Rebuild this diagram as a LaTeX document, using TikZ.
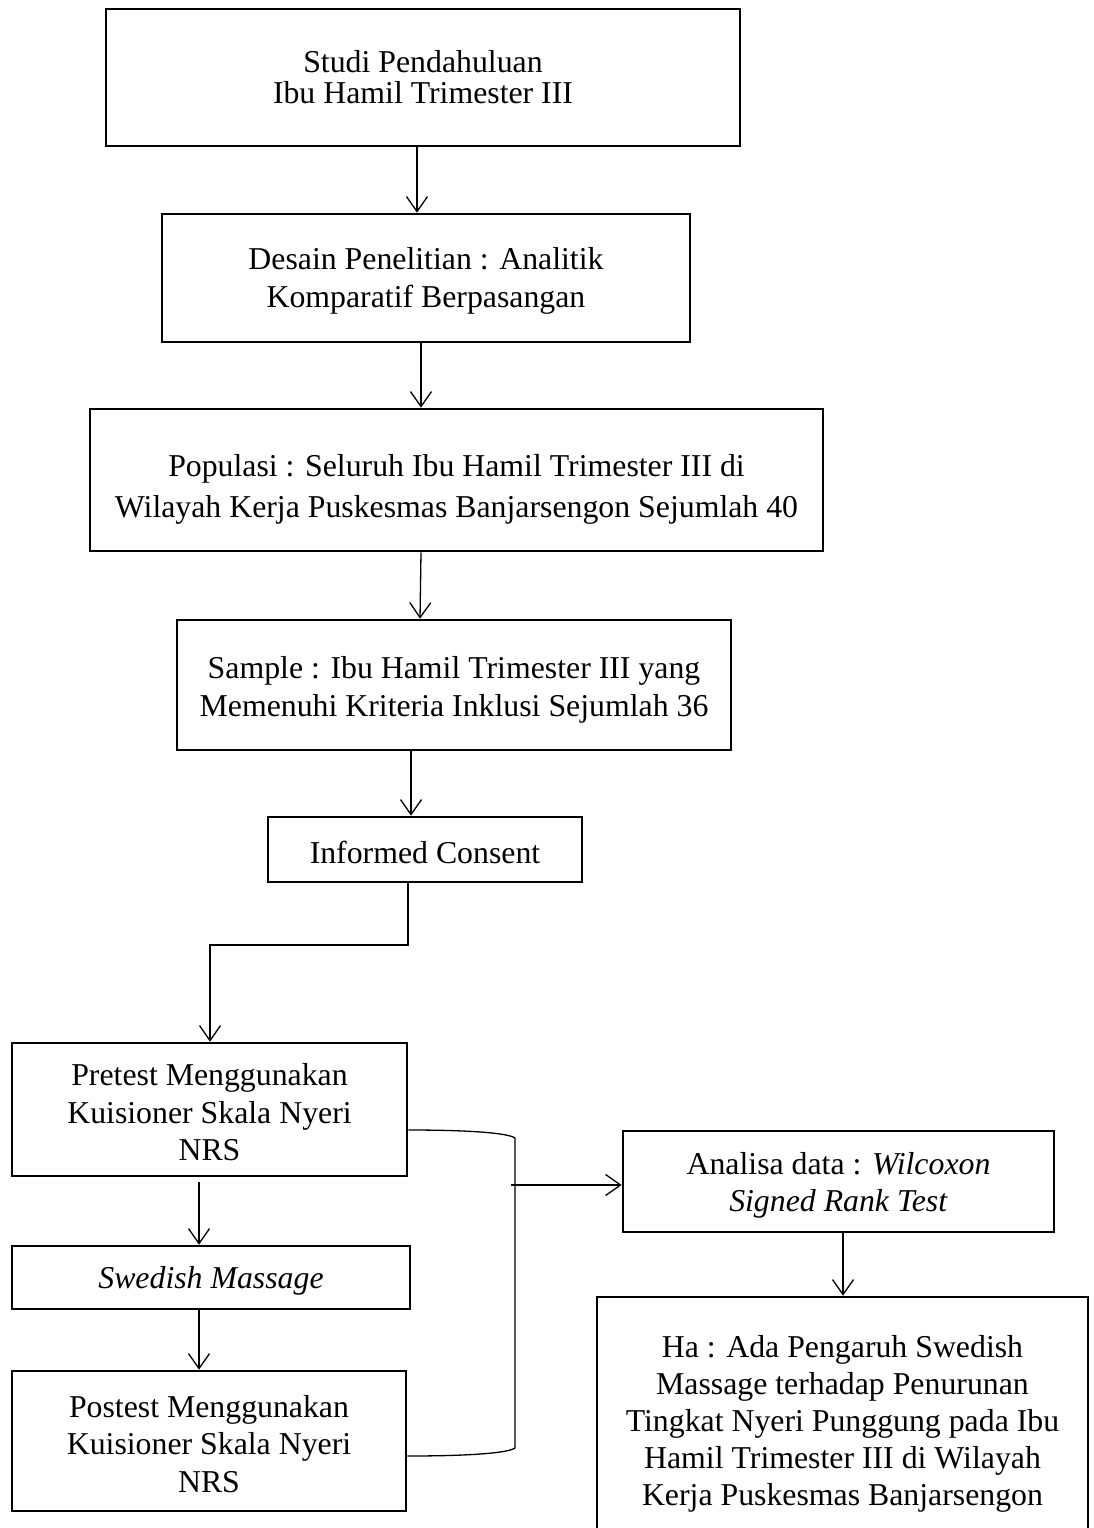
\documentclass[tikz,border=0pt]{standalone}
\usepackage{fontspec}
\setmainfont{Liberation Serif}
\usetikzlibrary{arrows.meta}
\begin{document}
\begin{tikzpicture}[x=1pt,y=-1pt,
  box/.style={draw, line width=2.6pt, inner sep=0pt},
  txt/.style={align=center, inner sep=0pt, yshift=-3pt, font=\fontsize{31.8}{37.5}\selectfont},
  conn/.style={line width=1.3pt},
  arr/.style={conn, -{Straight Barb[length=15pt,width=21pt,line width=1.3pt]}}]
\useasboundingbox (0,0) rectangle (1094,1528);

% boxes
\node[box, minimum width=634, minimum height=137] (studi) at (423,77.5) {};
\node[box, minimum width=528, minimum height=128] (desain) at (426,278) {};
\node[box, minimum width=733, minimum height=142] (populasi) at (456.5,480) {};
\node[box, minimum width=554, minimum height=130] (sample) at (454,685) {};
\node[box, minimum width=314, minimum height=65] (informed) at (425,849.5) {};
\node[box, minimum width=395, minimum height=133] (pretest) at (209.5,1109.5) {};
\node[box, minimum width=398, minimum height=63] (swedish) at (211,1277.5) {};
\node[box, minimum width=394, minimum height=140] (postest) at (209,1441) {};
\node[box, minimum width=431, minimum height=101] (analisa) at (838.5,1181.5) {};
\node[box, minimum width=491, minimum height=248] (ha) at (842.5,1421) {};

% texts
\node[txt, font=\fontsize{31.8}{31}\selectfont] (studi-t) at (423,74) {Studi Pendahuluan\\Ibu Hamil Trimester III};
\node[txt] (desain-t) at (desain.center) {Desain Penelitian : Analitik\\Komparatif Berpasangan};
\node[txt, font=\fontsize{31.8}{41}\selectfont] (populasi-t) at (456.5,486) {Populasi : Seluruh Ibu Hamil Trimester III di\\Wilayah Kerja Puskesmas Banjarsengon Sejumlah 40};
\node[txt] (sample-t) at ([yshift=-2pt]sample.center) {Sample : Ibu Hamil Trimester III yang\\Memenuhi Kriteria Inklusi Sejumlah 36};
\node[txt] (informed-t) at (informed.center) {Informed Consent};
\node[txt] (pretest-t) at (pretest.center) {Pretest Menggunakan\\Kuisioner Skala Nyeri\\NRS};
\node[txt] (swedish-t) at (swedish.center) {\textit{Swedish Massage}};
\node[txt] (postest-t) at (postest.center) {Postest Menggunakan\\Kuisioner Skala Nyeri\\NRS};
\node[txt] (analisa-t) at ([yshift=-1pt]analisa.center) {Analisa data : \textit{Wilcoxon}\\\textit{Signed Rank Test}};
\node[txt, font=\fontsize{31.8}{37}\selectfont] (ha-t) at (ha.center) {Ha : Ada Pengaruh Swedish\\Massage terhadap Penurunan\\Tingkat Nyeri Punggung pada Ibu\\Hamil Trimester III di Wilayah\\Kerja Puskesmas Banjarsengon};

% connectors
\draw[arr] (studi.south -| 417,0) -- (desain.north -| 417,0);
\draw[arr] (desain.south -| 421,0) -- (populasi.north -| 421,0);
\draw[arr] (populasi.south -| 421,0) -- (sample.north -| 420,0);
\draw[arr] (sample.south -| 411,0) -- (informed.north -| 411,0);
\draw[arr] (informed.south -| 408,0) -- (408,945) -- (210,945) -- (pretest.north -| 210,0);
\draw[arr] ([yshift=-5pt]pretest.south -| 199,0) -- (swedish.north -| 199,0);
\draw[arr] (swedish.south -| 199,0) -- (postest.north -| 199,0);
\draw[conn] (pretest.east |- 0,1130) .. controls (470,1130) and (508,1133) .. (515,1138) -- (515,1448) .. controls (508,1453) and (470,1456) .. (postest.east |- 0,1456);
\coordinate (brk) at (511,1185);
\draw[arr] (brk) -- (analisa.west |- brk);
\draw[arr] (analisa.south -| 843,0) -- (ha.north -| 843,0);
\end{tikzpicture}
\end{document}
